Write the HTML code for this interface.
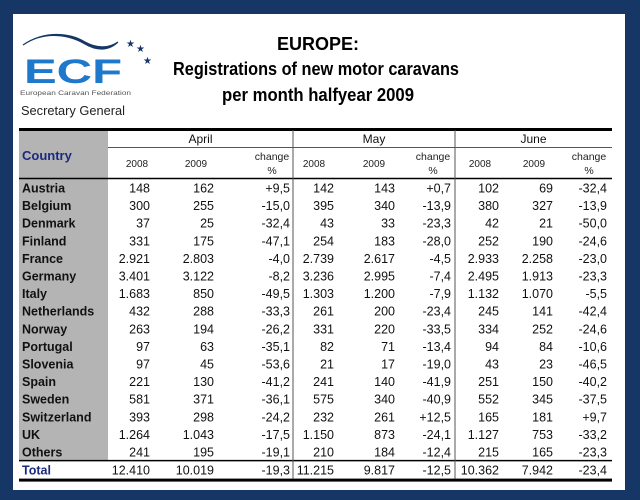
<!DOCTYPE html>
<html><head><meta charset="utf-8"><style>
html,body{margin:0;padding:0;background:#163766;}
svg{display:block;font-family:"Liberation Sans",sans-serif;}
</style></head><body>
<svg id="s" width="640" height="500" viewBox="0 0 640 500">
<rect x="0" y="0" width="640" height="500" fill="#163766"/>
<rect x="13" y="14" width="612" height="476" fill="#ffffff"/>
<g>
<path d="M23,45 C45,30 70,35 85,44 C95,50 108,52 118,42 C108,49 96,48 85,42 C70,33 45,30 23,45 Z" fill="#163766" stroke="#163766" stroke-width="1.2"/>
<text x="126" y="47" font-size="10" fill="#163766">★</text>
<text x="136" y="52" font-size="10" fill="#163766">★</text>
<text x="143" y="64" font-size="10" fill="#163766">★</text>
<text x="24" y="83" font-size="34" font-weight="bold" fill="#1e78cc" textLength="98" lengthAdjust="spacingAndGlyphs">ECF</text>
<text x="20" y="95" font-size="6" fill="#555" textLength="111" lengthAdjust="spacingAndGlyphs">European Caravan Federation</text>
<text x="21" y="115" font-size="12.5" fill="#222" textLength="104" lengthAdjust="spacingAndGlyphs">Secretary General</text>
</g>
<g font-weight="bold" font-size="18" text-anchor="middle" fill="#000">
<text x="318" y="50">EUROPE:</text>
<text x="316" y="75" textLength="286" lengthAdjust="spacingAndGlyphs">Registrations of new motor caravans</text>
<text x="318" y="101" textLength="192" lengthAdjust="spacingAndGlyphs">per month halfyear 2009</text>
</g>
<g id="tbl"></g>
</svg>
<script>
const countries=["Austria","Belgium","Denmark","Finland","France","Germany","Italy","Netherlands","Norway","Portugal","Slovenia","Spain","Sweden","Switzerland","UK","Others"];
const apr08=["148","300","37","331","2.921","3.401","1.683","432","263","97","97","221","581","393","1.264","241"];
const apr09=["162","255","25","175","2.803","3.122","850","288","194","63","45","130","371","298","1.043","195"];
const aprCh=["+9,5","-15,0","-32,4","-47,1","-4,0","-8,2","-49,5","-33,3","-26,2","-35,1","-53,6","-41,2","-36,1","-24,2","-17,5","-19,1"];
const may08=["142","395","43","254","2.739","3.236","1.303","261","331","82","21","241","575","232","1.150","210"];
const may09=["143","340","33","183","2.617","2.995","1.200","200","220","71","17","140","340","261","873","184"];
const mayCh=["+0,7","-13,9","-23,3","-28,0","-4,5","-7,4","-7,9","-23,4","-33,5","-13,4","-19,0","-41,9","-40,9","+12,5","-24,1","-12,4"];
const jun08=["102","380","42","252","2.933","2.495","1.132","245","334","94","43","251","552","165","1.127","215"];
const jun09=["69","327","21","190","2.258","1.913","1.070","141","252","84","23","150","345","181","753","165"];
const junCh=["-32,4","-13,9","-50,0","-24,6","-23,0","-23,3","-5,5","-42,4","-24,6","-10,6","-46,5","-40,2","-37,5","+9,7","-33,2","-23,3"];
const totals=["12.410","10.019","-19,3","11.215","9.817","-12,5","10.362","7.942","-23,4"];
const months=["April","May","June"];
const NS="http://www.w3.org/2000/svg";
const g=document.getElementById('tbl');
function el(tag,attrs,txt){const e=document.createElementNS(NS,tag);for(const k in attrs)e.setAttribute(k,attrs[k]);if(txt!==undefined)e.textContent=txt;g.appendChild(e);return e;}
const L=19,R=612,topY=130,rowY0=179,rowH=17.6;
const groupX=[108,293,455,612];
const colRight=[150,214,290,334,395,451,499,553,607];
const colCenter=[137,196,270,314,374,432,480,534,588];
let c=el('rect',{x:L,y:topY,width:groupX[0]-L,height:rowY0+rowH*16-topY,fill:'#b4b4b4'});


let t=el('text',{x:22,y:160,'font-size':13,'font-weight':'bold',fill:'#1a2a80'},'Country');


el('rect',{x:L,y:topY-2,width:R-L,height:3,fill:'#000'});
el('line',{x1:groupX[0],x2:R,y1:147.5,y2:147.5,stroke:'#555','stroke-width':1});
el('line',{x1:L,x2:R,y1:rowY0-0.5,y2:rowY0-0.5,stroke:'#000','stroke-width':1.5});
const totY=rowY0+rowH*16;
el('line',{x1:L,x2:R,y1:totY,y2:totY,stroke:'#000','stroke-width':1.5});
el('rect',{x:L,y:totY+18,width:R-L,height:3,fill:'#000'});
for(let i=1;i<3;i++)el('line',{x1:groupX[i],x2:groupX[i],y1:topY,y2:totY+18,stroke:'#555','stroke-width':1});
months.forEach((m,i)=>{
  const h=el('text',{x:(groupX[i]+groupX[i+1])/2,y:143,'font-size':12,'text-anchor':'middle',fill:'#111'},m);
  
  
  el('text',{x:colCenter[i*3],y:167,'font-size':10,'text-anchor':'middle',fill:'#222'},'2008');
  el('text',{x:colCenter[i*3+1],y:167,'font-size':10,'text-anchor':'middle',fill:'#222'},'2009');
  el('text',{x:colRight[i*3+2]-18,y:160,'font-size':10.5,'text-anchor':'middle',fill:'#222'},'change');
  el('text',{x:colRight[i*3+2]-18,y:174,'font-size':10.5,'text-anchor':'middle',fill:'#222'},'%');
});
const cols=[apr08,apr09,aprCh,may08,may09,mayCh,jun08,jun09,junCh];
countries.forEach((name,r)=>{
  const y=rowY0+rowH*r+13.5;
  const n=el('text',{x:22,y:y,'font-size':12.5,'font-weight':'bold',fill:'#111'},name);
  
  
  cols.forEach((col,k)=>{
    const v=el('text',{x:colRight[k],y:y,'font-size':12.5,'text-anchor':'end',fill:'#111'},col[r]);
    
    
  });
});
const ty=totY+14;
const tl=el('text',{x:22,y:ty,'font-size':12.5,'font-weight':'bold',fill:'#1a2a80'},'Total');


totals.forEach((v,k)=>{
  const e=el('text',{x:colRight[k],y:ty,'font-size':12.5,'text-anchor':'end',fill:'#111'},v);
  
  
});
</script>
</body></html>
